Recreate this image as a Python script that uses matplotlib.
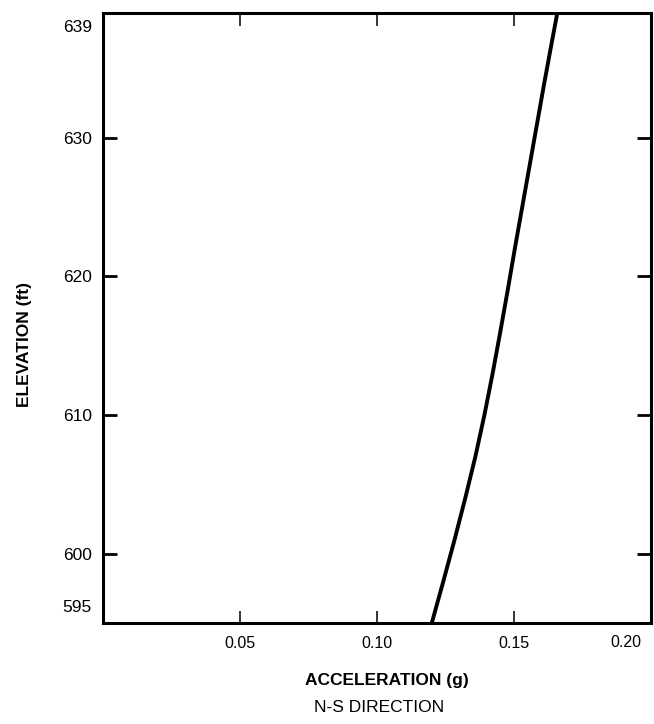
import matplotlib
matplotlib.use("Agg")
import matplotlib.pyplot as plt

plt.rcParams['font.family'] = ['Liberation Sans', 'DejaVu Sans']

# Data
elevation = [595, 598, 601, 604, 607, 610, 613, 616, 619, 622, 625, 628, 631, 634, 637, 639]
acceleration = [0.1200, 0.1242, 0.1283, 0.1322, 0.1359, 0.1392, 0.1422, 0.1450,
                0.1477, 0.1503, 0.1530, 0.1557, 0.1584, 0.1611, 0.1639, 0.1658]

x_ticks = [0.05, 0.10, 0.15]
x_tick_labels = ["0.05", "0.10", "0.15"]
x_end_label = (0.20, "0.20")
y_ticks = [630, 620, 610, 600]
y_tick_labels = ["630", "620", "610", "600"]
y_corner_labels = [639, 595]

fig = plt.figure(figsize=(6.54, 7.24), dpi=100)
W, H = 654, 724
left, right, top, bottom = 103, 651, 13, 623
ax = fig.add_axes([left / W, 1 - bottom / H, (right - left) / W, (bottom - top) / H])

ax.plot(acceleration, elevation, color='black', lw=2.8, solid_capstyle='butt')

ax.set_xlim(0, 0.20)
ax.set_ylim(595, 639)

for s in ax.spines.values():
    s.set_linewidth(2.2)
    s.set_color('black')

ax.set_xticks(x_ticks)
ax.set_xticklabels(x_tick_labels, fontsize=11.5)
ax.set_yticks(y_ticks)
ax.set_yticklabels(y_tick_labels, fontsize=12.5)

ax.tick_params(axis='x', direction='in', length=9, width=1.1, top=True, bottom=True, pad=9)
ax.tick_params(axis='y', direction='in', length=10, width=2.0, left=True, right=True, pad=8)

# 0.20 label sits left of the corner in the reference
ax.annotate(x_end_label[1], xy=(x_end_label[0], 0), xycoords=('data', 'axes fraction'),
            xytext=(-10, -12), textcoords='offset pixels', ha='right', va='top', fontsize=11.5)

# corner labels on y axis, shifted inward as in the reference
ax.annotate(str(y_corner_labels[0]), xy=(0, y_corner_labels[0]), xycoords=('axes fraction', 'data'),
            xytext=(-11, -14), textcoords='offset pixels', ha='right', va='center', fontsize=12.5)
ax.annotate(str(y_corner_labels[1]), xy=(0, y_corner_labels[1]), xycoords=('axes fraction', 'data'),
            xytext=(-11, 16), textcoords='offset pixels', ha='right', va='center', fontsize=12.5)

ax.set_xlabel("ACCELERATION (g)", fontsize=12.5, fontweight='bold', va='center')
ax.xaxis.set_label_coords((387 - left) / (right - left), (bottom - 680) / (bottom - top))
ax.set_ylabel("ELEVATION (ft)", fontsize=12.5, fontweight='bold', va='center', ha='center')
ax.yaxis.set_label_coords((25 - left) / (right - left), (bottom - 344) / (bottom - top))

fig.text(379 / W, 1 - 708 / H, "N-S DIRECTION", fontsize=12.5, ha='center', va='center')

fig.savefig("out.png", dpi=100)
